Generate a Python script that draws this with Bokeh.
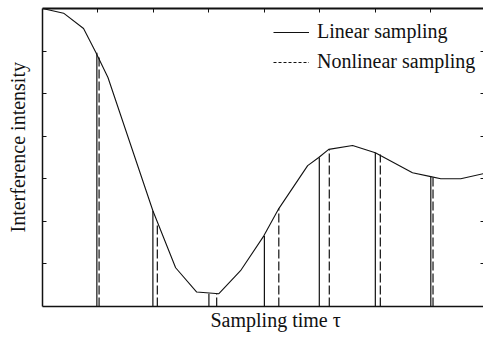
from bokeh.plotting import figure
from bokeh.models import (Range1d, LinearAxis, FixedTicker, Legend,
                          LegendItem, ColumnDataSource, Title)
from bokeh.embed import file_html
from bokeh.resources import INLINE

# ---- data ----
curve_t = [0.00, 0.38, 0.74, 0.96, 1.18, 1.99, 2.40, 2.78, 3.18, 3.57, 3.99,
           4.26, 4.78, 4.98, 5.16, 5.59, 6.00, 6.67, 7.00, 7.18, 7.54, 7.95]
curve_i = [7.00, 6.89, 6.53, 5.97, 5.38, 2.25, 0.91, 0.34, 0.30, 0.84, 1.66,
           2.30, 3.31, 3.50, 3.69, 3.78, 3.61, 3.14, 3.05, 3.00, 3.00, 3.12]
linear_t = [0.98, 1.99, 3.00, 4.00, 4.99, 6.00, 7.00]
linear_i = [5.96, 2.25, 0.30, 1.66, 3.50, 3.61, 3.05]
nonlinear_t = [1.02, 2.07, 3.14, 4.26, 5.17, 6.09, 7.04]
nonlinear_i = [5.85, 1.97, 0.30, 2.30, 3.69, 3.57, 3.03]
x_ticks = [1, 2, 3, 4, 5, 6, 7]
y_ticks = [1, 2, 3, 4, 5, 6]
legend_labels = ["Linear sampling", "Nonlinear sampling"]
x_label = "Sampling time \u03c4"
y_label = "Interference intensity"

FONT = "Liberation Serif"
INK = "#111111"

p = figure(width=483, height=340, output_backend="svg", toolbar_location=None,
           x_range=Range1d(0, 7.95), y_range=Range1d(0, 7.0),
           x_axis_location=None, y_axis_location=None,
           min_border_left=42, min_border_right=0, min_border_top=8,
           min_border_bottom=34)
p.outline_line_color = None
p.grid.visible = False
p.background_fill_color = "white"
p.border_fill_color = "white"


def make_axis(ticks, width, tick_in, show_line=True):
    # ticks drawn as label-free minor ticks
    ax = LinearAxis(ticker=FixedTicker(ticks=[], minor_ticks=ticks))
    ax.major_tick_line_color = None
    ax.major_label_standoff = 0
    ax.minor_tick_out = 0
    ax.minor_tick_in = tick_in
    ax.minor_tick_line_color = INK if tick_in > 0 else None
    ax.minor_tick_line_width = 1
    ax.axis_line_width = width
    ax.axis_line_color = INK if show_line else None
    return ax


p.add_layout(make_axis(x_ticks, 1.5, 0), "below")
p.add_layout(make_axis(x_ticks, 2, 4), "above")
p.add_layout(make_axis(y_ticks, 1.5, 4), "left")
p.add_layout(make_axis(y_ticks, 1, 3, show_line=False), "right")

curve_r = p.line(curve_t, curve_i, line_color=INK, line_width=1.1)

lin_src = ColumnDataSource(dict(t=linear_t, top=linear_i, base=[0] * len(linear_t)))
non_src = ColumnDataSource(dict(t=nonlinear_t, top=nonlinear_i, base=[0] * len(nonlinear_t)))
p.segment(x0="t", y0="base", x1="t", y1="top", source=lin_src,
          line_color=INK, line_width=1.2)
p.segment(x0="t", y0="base", x1="t", y1="top", source=non_src,
          line_color=INK, line_width=1.2, line_dash="9 3")

dummy_dash = p.line(x=[float("nan")], y=[float("nan")], line_color=INK,
                    line_width=1.1, line_dash="3 2")

legend = Legend(items=[LegendItem(label=legend_labels[0], renderers=[curve_r]),
                       LegendItem(label=legend_labels[1], renderers=[dummy_dash])],
                location=(231, 233), padding=0, margin=0, spacing=7,
                glyph_width=36, glyph_height=20, label_height=20,
                label_standoff=8, border_line_color=None,
                background_fill_alpha=0,
                label_text_font=FONT, label_text_font_size="20px",
                label_text_color=INK)
p.add_layout(legend)

p.add_layout(Title(text=x_label, align="left", offset=168, standoff=0,
                   text_font=FONT, text_font_size="20px",
                   text_font_style="normal", text_color=INK), "below")
p.add_layout(Title(text=y_label, align="left", offset=74, standoff=0,
                   padding=dict(left=0, right=0, top=0, bottom=14),
                   text_font=FONT, text_font_size="20px",
                   text_font_style="normal", text_color=INK), "left")

open("out.html", "w").write(file_html(p, INLINE))
